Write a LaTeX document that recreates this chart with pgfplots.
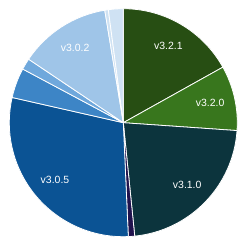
\documentclass[border=0pt]{standalone}
\usepackage{pgfplots}
\pgfplotsset{compat=1.18}
\usepackage{pgfplotstable}
\usepackage{fontspec}
\setmainfont{Liberation Sans}
\definecolor{c1}{HTML}{274E13}
\definecolor{c2}{HTML}{38761D}
\definecolor{c3}{HTML}{0C343D}
\definecolor{c4}{HTML}{20124D}
\definecolor{c5}{HTML}{0B5394}
\definecolor{c6}{HTML}{3D85C6}
\definecolor{c7}{HTML}{6FA8DC}
\definecolor{c8}{HTML}{9FC5E8}
\definecolor{c9}{HTML}{CFE2F3}
\definecolor{c10}{HTML}{CFE2F3}
\pgfplotstableread{
label value color
{v3.2.1} 16.9 c1
{v3.2.0} 9.2 c2
{v3.1.0} 22.3 c3
{} 0.9 c4
{v3.0.5} 29.25 c5
{} 4.25 c6
{} 1.6 c7
{v3.0.2} 13.0 c8
{} 0.5 c9
{} 2.1 c10
}\piedata
\tikzset{pielabel/.style={text=white, font=\fontsize{10.5}{12}\selectfont, inner sep=0pt}}
\begin{document}
\begin{tikzpicture}
\begin{axis}[
  x=1bp, y=1bp, scale only axis,
  xmin=0, xmax=244, ymin=0, ymax=244,
  hide axis, clip=false,
]
\path (axis cs:0,0) rectangle (axis cs:244,244);
\pgfmathsetmacro{\cum}{0}
\pgfplotsforeachungrouped \i in {0,...,9}{%
  \pgfplotstablegetelem{\i}{value}\of\piedata \let\v=\pgfplotsretval
  \pgfplotstablegetelem{\i}{color}\of\piedata \let\c=\pgfplotsretval
  \pgfplotstablegetelem{\i}{label}\of\piedata \let\l=\pgfplotsretval
  \pgfmathsetmacro{\a}{90-\cum*3.6}%
  \pgfmathsetmacro{\b}{90-(\cum+\v)*3.6}%
  \pgfmathsetmacro{\m}{(\a+\b)/2}%
  \pgfmathsetmacro{\lx}{123.3+89*cos(\m)}%
  \pgfmathsetmacro{\ly}{121.3+89*sin(\m)}%
  \edef\temp{\noexpand\fill[\c, draw=white, line width=0.8pt, line join=round] (axis cs:123.3,121.3) -- ++(\a:114bp) arc[start angle=\a, end angle=\b, radius=114bp] -- cycle;
  \noexpand\node[pielabel] at (axis cs:\lx,\ly) {\l};}%
  \temp
  \pgfmathsetmacro{\cum}{\cum+\v}%
}
\end{axis}
\end{tikzpicture}
\end{document}
